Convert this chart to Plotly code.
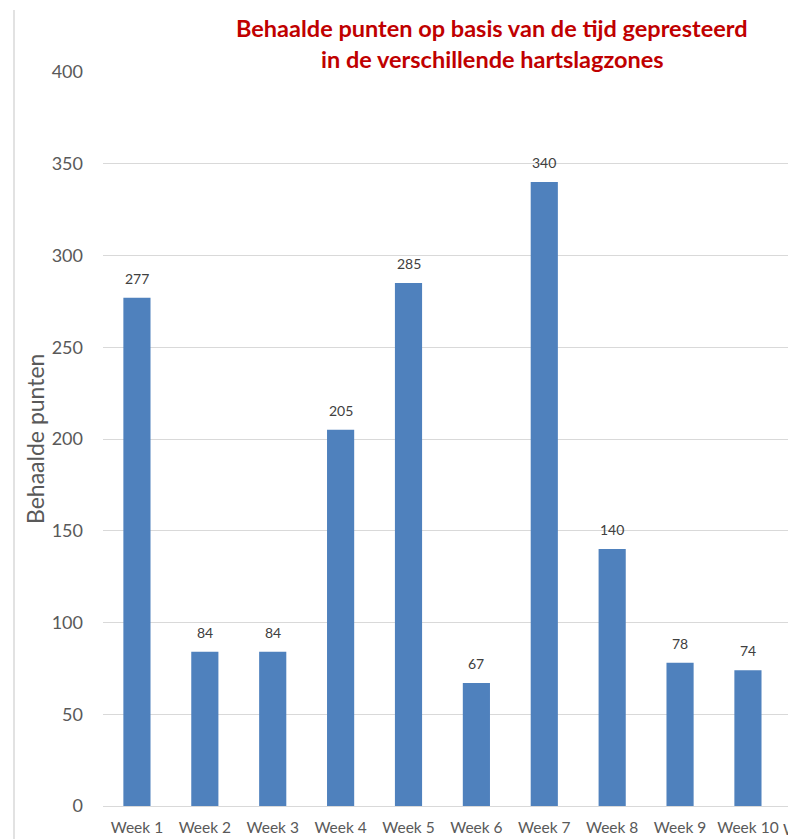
import plotly.graph_objects as go

weeks = ["Week 1", "Week 2", "Week 3", "Week 4", "Week 5",
         "Week 6", "Week 7", "Week 8", "Week 9", "Week 10"]
punten = [277, 84, 84, 205, 285, 67, 340, 140, 78, 74]
y_ticks = [0, 50, 100, 150, 200, 250, 300, 350, 400]

W, H = 788, 839
ML, MR, MT, MB = 103, 0, 72, 33
PW, PH = W - ML - MR, H - MT - MB
font = "Lato, Calibri, Carlito, sans-serif"
grey = "#595959"

fig = go.Figure(go.Bar(
    x=list(range(len(weeks))),
    y=punten,
    marker=dict(color="#4F81BD", line=dict(width=0)),
    cliponaxis=False,
))

# value labels above each bar
for i, v in enumerate(punten):
    fig.add_annotation(x=i, y=v, text=str(v), xref="x", yref="y",
                       showarrow=False, yanchor="bottom", yshift=9,
                       font=dict(family=font, size=14, color="#404040"))

fig.update_layout(
    width=W, height=H,
    margin=dict(l=ML, r=MR, t=MT, b=MB, pad=0, autoexpand=False),
    paper_bgcolor="white", plot_bgcolor="white",
    bargap=0.6,
    showlegend=False,
    font=dict(family=font, color=grey),
)

fig.update_xaxes(
    tickmode="array",
    tickvals=list(range(len(weeks))),
    ticktext=weeks,
    range=[-0.5, 9.59],
    automargin=False,
    showgrid=False, zeroline=False,
    showline=True, linecolor="#D9D9D9", linewidth=1,
    ticks="", tickfont=dict(family=font, size=15.5, color=grey),
    ticklabelstandoff=7,
)

fig.update_yaxes(
    range=[0, 400],
    tickmode="array", tickvals=y_ticks,
    automargin=False,
    showgrid=True, gridcolor="#D9D9D9", gridwidth=1,
    zeroline=False, showline=False, ticks="",
    tickfont=dict(family=font, size=18, color=grey),
    ticklabelstandoff=19,
)

# y-axis title
fig.add_annotation(text="Behaalde punten", xref="paper", yref="paper",
                   x=(35 - ML) / PW, y=0.5, textangle=-90,
                   xanchor="center", yanchor="middle", showarrow=False,
                   font=dict(family=font, size=23, color=grey))

# chart border on the left
fig.add_shape(type="line", xref="paper", yref="paper",
              x0=(14 - ML) / PW, x1=(14 - ML) / PW,
              y0=-MB / PH, y1=1 + (MT - 10) / PH,
              line=dict(color="#D9D9D9", width=1.5))

# two-line red title
title_lines = ["Behaalde punten op basis van de tijd gepresteerd",
               "in de verschillende hartslagzones"]
for i, line in enumerate(title_lines):
    fig.add_annotation(
        text=f"<b>{line}</b>", xref="paper", yref="paper",
        x=(492 - ML) / PW,
        y=1 + (MT - 28 - 31 * i) / PH,
        xanchor="center", yanchor="middle", showarrow=False,
        font=dict(family=font, size=23.5, color="#C00000"),
    )

# next category label, partly beyond the right edge
fig.add_annotation(text="Week 11", xref="paper", yref="paper",
                   x=(813 - ML) / PW, y=-(829 - 806) / PH,
                   xanchor="center", yanchor="middle", showarrow=False,
                   font=dict(family=font, size=15.5, color=grey))

fig.write_html("out.html")
